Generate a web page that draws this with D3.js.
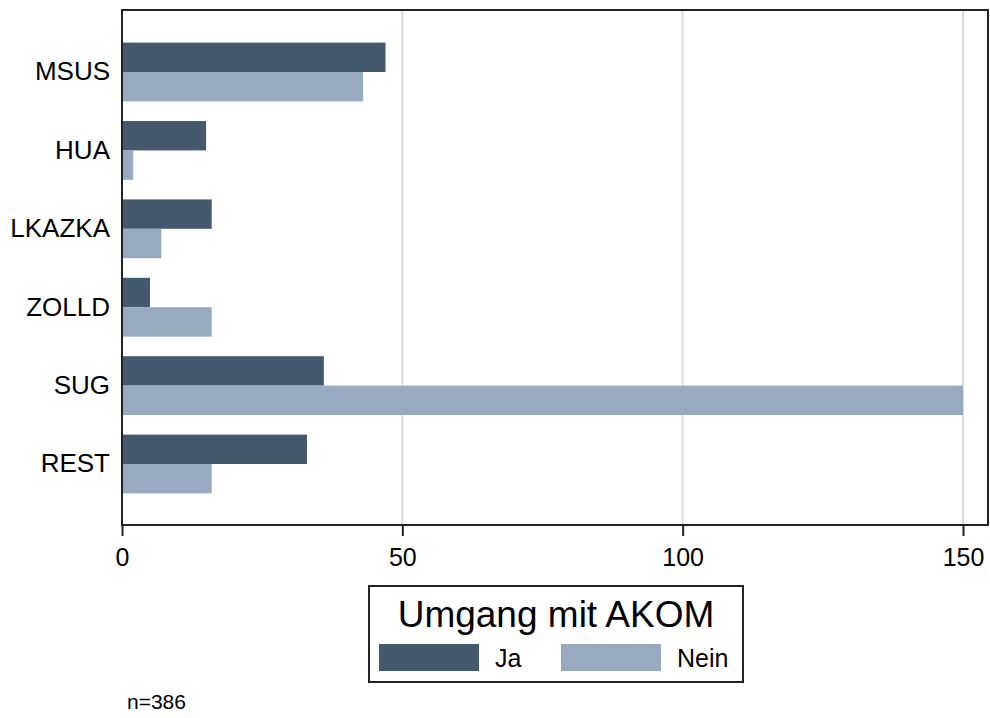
<!DOCTYPE html>
<html><head><meta charset="utf-8">
<script src="https://cdn.jsdelivr.net/npm/d3@7"></script>
<style>body{margin:0;background:#fff}svg{display:block;font-family:"Liberation Sans",Arial,sans-serif}</style>
</head><body><svg id="c" width="990" height="718"></svg>
<script>
const categories = ["MSUS","HUA","LKAZKA","ZOLLD","SUG","REST"];
const seriesNames = ["Ja","Nein"];
const jaValues = [47,15,16,5,36,33];
const neinValues = [43,2,7,16,150,16];
const xTicks = [0,50,100,150];
const legendTitle = "Umgang mit AKOM";
const note = "n=386";
const colors = {"Ja":"#44596e","Nein":"#97aabf"};

const svg = d3.select("#c");
const L=122, R=988, T=10, B=525;
const x = d3.scaleLinear().domain([0,150]).range([L,963]);
const y = d3.scaleBand().domain(categories).range([32.8,503.2]).paddingInner(0.25).paddingOuter(0.125);
const ys = d3.scaleBand().domain(seriesNames).range([0,y.bandwidth()]);

// grid
svg.append("g").selectAll("line").data(xTicks.filter(d=>d>0)).join("line")
  .attr("x1",d=>x(d)).attr("x2",d=>x(d)).attr("y1",T).attr("y2",B)
  .attr("stroke","#dcdcdc").attr("stroke-width",2);

const rows = categories.map((c,i)=>({c, Ja:jaValues[i], Nein:neinValues[i]}));
const g = svg.append("g");
rows.forEach(r=>{
  seriesNames.forEach(s=>{
    g.append("rect").attr("x",x(0)).attr("y",y(r.c)+ys(s))
      .attr("width",x(r[s])-x(0)).attr("height",ys.bandwidth()).attr("fill",colors[s]);
  });
});

// frame
svg.append("rect").attr("x",L).attr("y",T).attr("width",R-L).attr("height",B-T)
  .attr("fill","none").attr("stroke","#222").attr("stroke-width",2);

// x axis
const xa = svg.append("g").attr("transform",`translate(0,${B})`)
  .call(d3.axisBottom(x).tickValues(xTicks).tickSize(11).tickPadding(12).tickFormat(d3.format("d")));
xa.select(".domain").remove();
xa.selectAll("line").attr("stroke","#222").attr("stroke-width",2);
xa.selectAll("text").attr("font-size","25px").attr("fill","#000").attr("font-family","Liberation Sans, Arial, sans-serif");

// y axis
const ya = svg.append("g").attr("transform",`translate(${L},0)`)
  .call(d3.axisLeft(y).tickSize(0).tickPadding(12));
ya.select(".domain").remove();
ya.selectAll("text").attr("font-size","26px").attr("fill","#000").attr("font-family","Liberation Sans, Arial, sans-serif");

// legend
const lg = svg.append("g");
lg.append("rect").attr("x",369).attr("y",586).attr("width",374).attr("height",96)
  .attr("fill","#fff").attr("stroke","#222").attr("stroke-width",2);
lg.append("text").attr("x",556).attr("y",627).attr("text-anchor","middle")
  .attr("font-size","37px").text(legendTitle);
const lx = [379,561];
seriesNames.forEach((s,i)=>{
  lg.append("rect").attr("x",lx[i]).attr("y",644).attr("width",100).attr("height",27).attr("fill",colors[s]);
  lg.append("text").attr("x",lx[i]+116).attr("y",667).attr("font-size","25px").text(s);
});

svg.append("text").attr("x",127).attr("y",709).attr("font-size","21px").text(note);
</script></body></html>
